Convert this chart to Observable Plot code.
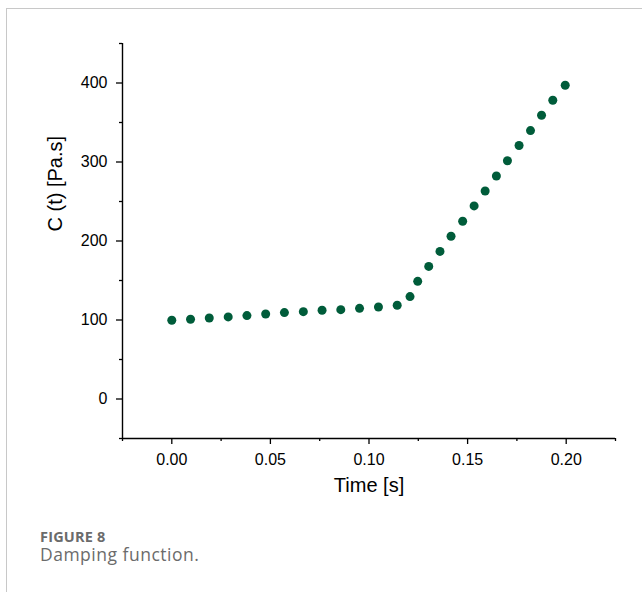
<!DOCTYPE html>
<html>
<head>
<meta charset="utf-8">
<script src="https://cdn.jsdelivr.net/npm/d3@7"></script>
<script src="https://cdn.jsdelivr.net/npm/@observablehq/plot@0.6"></script>
<style>
  html, body { margin: 0; padding: 0; background: #fff; }
  body { width: 642px; height: 592px; position: relative; overflow: hidden; }
  #frame { position: absolute; left: 6px; top: 8px; width: 800px; height: 800px;
           border-left: 1px solid #c8c8c8; border-top: 1px solid #c8c8c8; }
  #chart { position: absolute; left: 0; top: 0; }
  #chart svg text { font-family: "Liberation Sans", Arial, sans-serif !important; }
  #chart svg g[aria-label$="tick label"] text { font-size: 16px !important; font-variant: normal !important; }
  .cap { position: absolute; left: 40px; color: #6b6b6b; font-family: "Open Sans", "Noto Sans", sans-serif; white-space: nowrap; }
  #fig { top: 530.5px; font-size: 14.5px; line-height: 12px; font-weight: 700; letter-spacing: 0.2px; }
  #desc { top: 546px; font-size: 17.5px; line-height: 17.5px; font-weight: 400; letter-spacing: 0.5px; }
</style>
</head>
<body>
<div id="frame"></div>
<div id="chart"></div>
<div class="cap" id="fig">FIGURE 8</div>
<div class="cap" id="desc">Damping function.</div>
<script>
// Data
const time = [0, 0.0095, 0.019, 0.0286, 0.0381, 0.0476, 0.0571, 0.0667, 0.0762, 0.0857, 0.0952, 0.1048, 0.1143,
              0.1208, 0.1247, 0.1303, 0.136, 0.1416, 0.1475, 0.1533, 0.1589, 0.1646, 0.1702, 0.1761, 0.1819, 0.1875, 0.1932, 0.1995];
const damping = [99.7, 101, 102.6, 103.9, 105.6, 107.6, 109.4, 110.6, 112.3, 113.1, 114.8, 116.4, 118.6,
                 129.6, 148.9, 167.8, 186.8, 206, 225, 244.4, 263.3, 282.3, 301.6, 320.9, 339.8, 359.2, 378.2, 397.1];
const xMajorTicks = [0, 0.05, 0.10, 0.15, 0.20];
const xMinorTicks = [-0.025, 0.025, 0.075, 0.125, 0.175, 0.225];
const yMajorTicks = [0, 100, 200, 300, 400];
const yMinorTicks = [-50, 50, 150, 250, 350, 450];
const xDomain = [-0.025, 0.225];
const yDomain = [-50, 450];
const xTitle = ["Time [s]"];
const yTitle = ["C (t) [Pa.s]"];

const data = time.map((t, i) => ({t, c: damping[i]}));

const chart = Plot.plot({
  width: 642,
  height: 500,
  marginLeft: 122,
  marginRight: 27,
  marginTop: 43,
  marginBottom: 62,
  style: {fontFamily: "'Liberation Sans', Arial, sans-serif", fontSize: "16px", color: "#000", background: "transparent", overflow: "visible"},
  x: {domain: xDomain},
  y: {domain: yDomain},
  marks: [
    Plot.axisX({ticks: xMajorTicks, tickSize: 6, tickPadding: 9, tickFormat: d3.format(".2f"), fontSize: 16, label: null, strokeWidth: 1.3}),
    Plot.axisX({ticks: xMinorTicks, tickSize: 3, text: null, label: null, strokeWidth: 1.3}),
    Plot.axisY({ticks: yMajorTicks, tickSize: 6, tickPadding: 9, tickFormat: d3.format("d"), fontSize: 16, label: null, strokeWidth: 1.3}),
    Plot.axisY({ticks: yMinorTicks, tickSize: 3, text: null, label: null, strokeWidth: 1.3}),
    Plot.ruleX([xDomain[0]], {stroke: "#000", strokeWidth: 1.4}),
    Plot.ruleY([yDomain[0]], {stroke: "#000", strokeWidth: 1.4}),
    Plot.dot(data, {x: "t", y: "c", r: 4.5, fill: "#005c3a", stroke: null}),
    Plot.text(xTitle, {text: d => d, frameAnchor: "bottom", dy: 53, fontSize: 20, fill: "#000"}),
    Plot.text(yTitle, {text: d => d, frameAnchor: "left", rotate: -90, dx: -66.5, dy: -9.5, fontSize: 20, fill: "#000"})
  ]
});
document.getElementById("chart").appendChild(chart);
</script>
</body>
</html>
